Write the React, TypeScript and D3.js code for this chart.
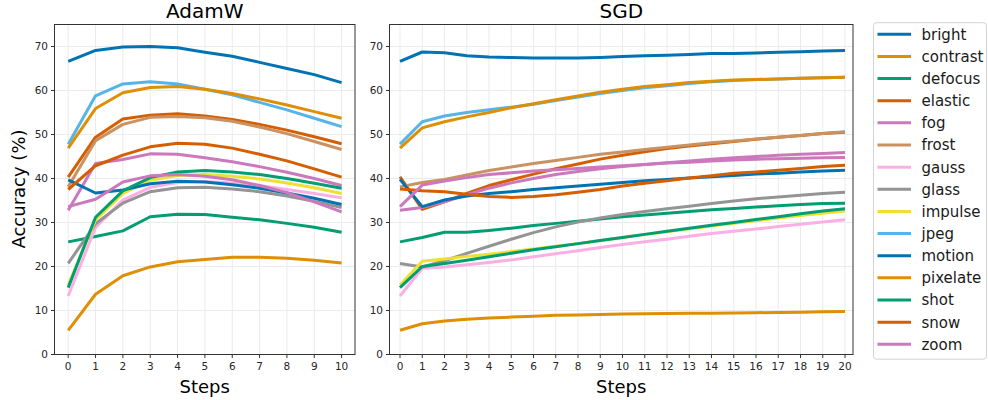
import React from "react";
import * as d3 from "d3";

// ---------- data ----------
const corruptions = ["bright", "contrast", "defocus", "elastic", "fog", "frost", "gauss", "glass", "impulse", "jpeg", "motion", "pixelate", "shot", "snow", "zoom"];
const palette = ["#0173b2", "#de8f05", "#029e73", "#d55e00", "#cc78bc", "#ca9161", "#fbafe4", "#949494", "#ece133", "#56b4e9", "#0173b2", "#de8f05", "#029e73", "#d55e00", "#cc78bc"];

const adamSteps = [0, 1, 2, 3, 4, 5, 6, 7, 8, 9, 10];
const sgdSteps = [0, 1, 2, 3, 4, 5, 6, 7, 8, 9, 10, 11, 12, 13, 14, 15, 16, 17, 18, 19, 20];
const yTicks = [0, 10, 20, 30, 40, 50, 60, 70];

// AdamW
const adamBright = [66.6, 69.1, 69.9, 70.0, 69.7, 68.7, 67.8, 66.4, 65.0, 63.6, 61.8];
const adamContrast = [46.9, 55.9, 59.5, 60.7, 60.9, 60.3, 59.3, 58.1, 56.7, 55.2, 53.7];
const adamDefocus = [25.6, 26.8, 28.1, 31.3, 31.9, 31.8, 31.2, 30.6, 29.8, 28.9, 27.8];
const adamElastic = [40.3, 49.4, 53.5, 54.4, 54.7, 54.2, 53.4, 52.3, 51.0, 49.5, 47.9];
const adamFog = [32.8, 43.4, 44.3, 45.6, 45.5, 44.7, 43.8, 42.7, 41.4, 40.0, 38.4];
const adamFrost = [38.1, 48.6, 52.3, 53.9, 54.1, 53.8, 53.0, 51.7, 50.2, 48.4, 46.6];
const adamGauss = [13.3, 28.9, 35.1, 38.0, 39.1, 39.3, 39.0, 38.4, 37.5, 36.6, 35.6];
const adamGlass = [20.7, 29.7, 34.4, 37.0, 37.9, 38.0, 37.6, 37.0, 36.0, 34.8, 33.4];
const adamImpulse = [15.8, 30.6, 36.6, 39.6, 40.7, 40.9, 40.5, 39.9, 39.0, 37.9, 36.6];
const adamJpeg = [47.8, 58.8, 61.5, 62.0, 61.5, 60.3, 59.0, 57.3, 55.6, 53.7, 51.8];
const adamMotion = [39.7, 36.7, 37.4, 38.8, 39.4, 39.2, 38.6, 37.8, 36.7, 35.5, 34.1];
const adamPixelate = [5.5, 13.7, 17.9, 19.9, 21.1, 21.6, 22.1, 22.1, 21.9, 21.4, 20.8];
const adamShot = [15.2, 31.2, 37.2, 40.2, 41.5, 41.8, 41.5, 40.9, 40.0, 38.9, 37.8];
const adamSnow = [37.5, 42.9, 45.3, 47.2, 48.0, 47.8, 46.9, 45.5, 44.0, 42.2, 40.3];
const adamZoom = [33.6, 35.3, 39.2, 40.6, 40.9, 40.5, 39.7, 38.4, 36.8, 34.7, 32.4];

// SGD
const sgdBright = [66.6, 68.75, 68.6, 67.9, 67.6, 67.5, 67.4, 67.4, 67.4, 67.5, 67.7, 67.9, 68.0, 68.2, 68.4, 68.4, 68.5, 68.7, 68.8, 69.0, 69.1];
const sgdContrast = [46.9, 51.5, 52.9, 54.0, 55.0, 56.1, 57.0, 57.9, 58.75, 59.6, 60.3, 60.9, 61.3, 61.8, 62.1, 62.4, 62.5, 62.6, 62.8, 62.9, 63.0];
const sgdDefocus = [25.6, 26.6, 27.8, 27.8, 28.2, 28.7, 29.3, 29.8, 30.3, 30.8, 31.3, 31.7, 32.1, 32.5, 32.9, 33.2, 33.5, 33.8, 34.1, 34.3, 34.4];
const sgdElastic = [40.4, 33.0, 34.7, 36.6, 38.4, 39.7, 41.0, 42.2, 43.3, 44.4, 45.3, 46.1, 46.8, 47.4, 47.9, 48.4, 48.9, 49.4, 49.8, 50.2, 50.5];
const sgdFog = [32.8, 33.4, 34.7, 36.3, 37.8, 39.0, 40.0, 40.9, 41.6, 42.2, 42.7, 43.2, 43.6, 44.0, 44.4, 44.7, 45.0, 45.3, 45.5, 45.7, 45.9];
const sgdFrost = [38.1, 39.1, 39.8, 40.8, 41.8, 42.6, 43.4, 44.1, 44.8, 45.5, 46.0, 46.6, 47.1, 47.6, 48.1, 48.5, 49.0, 49.4, 49.8, 50.2, 50.6];
const sgdGauss = [13.3, 19.6, 19.9, 20.4, 20.9, 21.5, 22.2, 22.9, 23.6, 24.3, 25.0, 25.6, 26.2, 26.9, 27.5, 28.0, 28.5, 29.1, 29.6, 30.1, 30.6];
const sgdGlass = [20.7, 19.9, 21.3, 23.0, 24.6, 26.2, 27.7, 29.0, 30.1, 31.0, 31.8, 32.5, 33.1, 33.7, 34.3, 34.9, 35.4, 35.8, 36.2, 36.6, 36.9];
const sgdImpulse = [15.8, 21.2, 21.7, 22.3, 22.8, 23.4, 24.0, 24.6, 25.2, 25.9, 26.6, 27.3, 27.9, 28.6, 29.2, 29.8, 30.4, 31.0, 31.6, 32.1, 32.6];
const sgdJpeg = [47.8, 52.9, 54.2, 55.0, 55.6, 56.2, 56.9, 57.7, 58.5, 59.3, 60.0, 60.6, 61.1, 61.6, 62.0, 62.3, 62.5, 62.6, 62.8, 62.9, 63.0];
const sgdMotion = [39.8, 33.6, 35.1, 36.0, 36.6, 37.0, 37.5, 37.9, 38.3, 38.7, 39.1, 39.5, 39.8, 40.1, 40.4, 40.7, 41.0, 41.2, 41.5, 41.7, 41.9];
const sgdPixelate = [5.5, 7.0, 7.6, 8.0, 8.3, 8.5, 8.7, 8.9, 9.0, 9.1, 9.2, 9.25, 9.3, 9.35, 9.4, 9.45, 9.5, 9.55, 9.6, 9.7, 9.75];
const sgdShot = [15.2, 20.0, 20.7, 21.4, 22.2, 23.0, 23.8, 24.5, 25.2, 25.9, 26.6, 27.3, 28.0, 28.7, 29.4, 30.0, 30.7, 31.3, 32.0, 32.6, 33.1];
const sgdSnow = [37.6, 37.2, 37.0, 36.4, 35.9, 35.7, 35.9, 36.3, 36.9, 37.5, 38.3, 38.9, 39.5, 40.1, 40.6, 41.2, 41.5, 41.9, 42.3, 42.7, 43.0];
const sgdZoom = [33.6, 38.5, 39.4, 40.2, 40.9, 41.3, 41.7, 42.0, 42.3, 42.6, 42.9, 43.2, 43.5, 43.7, 44.0, 44.2, 44.4, 44.5, 44.6, 44.7, 44.8];

const adamSeries = [adamBright, adamContrast, adamDefocus, adamElastic, adamFog, adamFrost, adamGauss, adamGlass, adamImpulse, adamJpeg, adamMotion, adamPixelate, adamShot, adamSnow, adamZoom];
const sgdSeries = [sgdBright, sgdContrast, sgdDefocus, sgdElastic, sgdFog, sgdFrost, sgdGauss, sgdGlass, sgdImpulse, sgdJpeg, sgdMotion, sgdPixelate, sgdShot, sgdSnow, sgdZoom];

// draw order (contrast rendered over jpeg)
const drawOrder = [0, 2, 3, 4, 5, 6, 7, 8, 9, 1, 10, 11, 12, 13, 14];

const FONT = "DejaVu Sans, sans-serif";

type PanelProps = {
  title: string;
  steps: number[];
  series: number[][];
  frameX0: number;
  frameX1: number;
  tickX0: number;
  tickXLast: number;
};

const yTop = 24.5;
const yBot = 354.5;

function Panel({ title, steps, series, frameX0, frameX1, tickX0, tickXLast }: PanelProps) {
  const first = steps[0];
  const last = steps[steps.length - 1];
  const x = d3.scaleLinear().domain([first, last]).range([tickX0, tickXLast]);
  const y = d3.scaleLinear().domain([0, 75]).range([yBot, yTop]);
  const line = d3
    .line<number>()
    .x((_, i) => x(steps[i]))
    .y((d) => y(d));
  const cx = (frameX0 + frameX1) / 2;
  return (
    <g>
      <rect x={frameX0} y={yTop} width={frameX1 - frameX0} height={yBot - yTop} fill="#ffffff" />
      {/* grid */}
      {steps.map((s) => (
        <line key={"gx" + s} x1={x(s)} x2={x(s)} y1={yTop} y2={yBot} stroke="#ebebeb" strokeWidth={1} />
      ))}
      {yTicks.map((t) => (
        <line key={"gy" + t} x1={frameX0} x2={frameX1} y1={y(t)} y2={y(t)} stroke="#ebebeb" strokeWidth={1} />
      ))}
      {/* lines */}
      <g clipPath={undefined}>
        {drawOrder.map((k) => (
          <path
            key={corruptions[k]}
            d={line(series[k]) || ""}
            fill="none"
            stroke={palette[k]}
            strokeWidth={3}
            strokeLinejoin="round"
            strokeLinecap="butt"
          />
        ))}
      </g>
      {/* frame */}
      <rect x={frameX0} y={yTop} width={frameX1 - frameX0} height={yBot - yTop} fill="none" stroke="#333333" strokeWidth={1} />
      {/* y ticks */}
      {yTicks.map((t) => (
        <g key={"yt" + t}>
          <line x1={frameX0 - 3.5} x2={frameX0} y1={y(t)} y2={y(t)} stroke="#333333" strokeWidth={1} />
          <text x={frameX0 - 6.5} y={y(t)} dy="0.36em" textAnchor="end" fontSize={10.5} fontFamily={FONT} fill="#262626">
            {t}
          </text>
        </g>
      ))}
      {/* x ticks */}
      {steps.map((s) => (
        <g key={"xt" + s}>
          <line x1={x(s)} x2={x(s)} y1={yBot} y2={yBot + 3.5} stroke="#333333" strokeWidth={1} />
          <text x={x(s)} y={370} textAnchor="middle" fontSize={10.5} fontFamily={FONT} fill="#262626">
            {s}
          </text>
        </g>
      ))}
      <text x={cx} y={17.5} textAnchor="middle" fontSize={20} fontFamily={FONT} fill="#000">
        {title}
      </text>
      <text x={cx} y={392.5} textAnchor="middle" fontSize={18} fontFamily={FONT} fill="#000">
        Steps
      </text>
    </g>
  );
}

function Legend() {
  const lx = 873.5;
  const ly = 22.7;
  const rowY = d3.scaleLinear().domain([0, corruptions.length - 1]).range([34.3, 344.3]);
  return (
    <g>
      <rect x={lx} y={ly} width={113} height={336.5} rx={3} fill="#ffffff" stroke="#d3d3d3" strokeWidth={1} />
      {corruptions.map((c, i) => (
        <g key={c}>
          <line x1={877.5} x2={911} y1={rowY(i)} y2={rowY(i)} stroke={palette[i]} strokeWidth={3} />
          <text x={921.5} y={rowY(i)} dy="0.36em" fontSize={15} fontFamily={FONT} fill="#1a1a1a">
            {c}
          </text>
        </g>
      ))}
    </g>
  );
}

export default function App() {
  return (
    <svg
      width={988}
      height={400}
      viewBox="0 0 988 400"
      style={{ position: "absolute", left: 0, top: 0, background: "#ffffff" }}
    >
      <rect x={0} y={0} width={988} height={400} fill="#ffffff" />
      <Panel title="AdamW" steps={adamSteps} series={adamSeries} frameX0={54.5} frameX1={355} tickX0={68.2} tickXLast={341.6} />
      <Panel title="SGD" steps={sgdSteps} series={sgdSeries} frameX0={389.5} frameX1={853} tickX0={400} tickXLast={845} />
      <text
        transform={`translate(24.5, 189) rotate(-90)`}
        textAnchor="middle"
        fontSize={18}
        fontFamily={FONT}
        fill="#000"
      >
        Accuracy (%)
      </text>
      <Legend />
    </svg>
  );
}
